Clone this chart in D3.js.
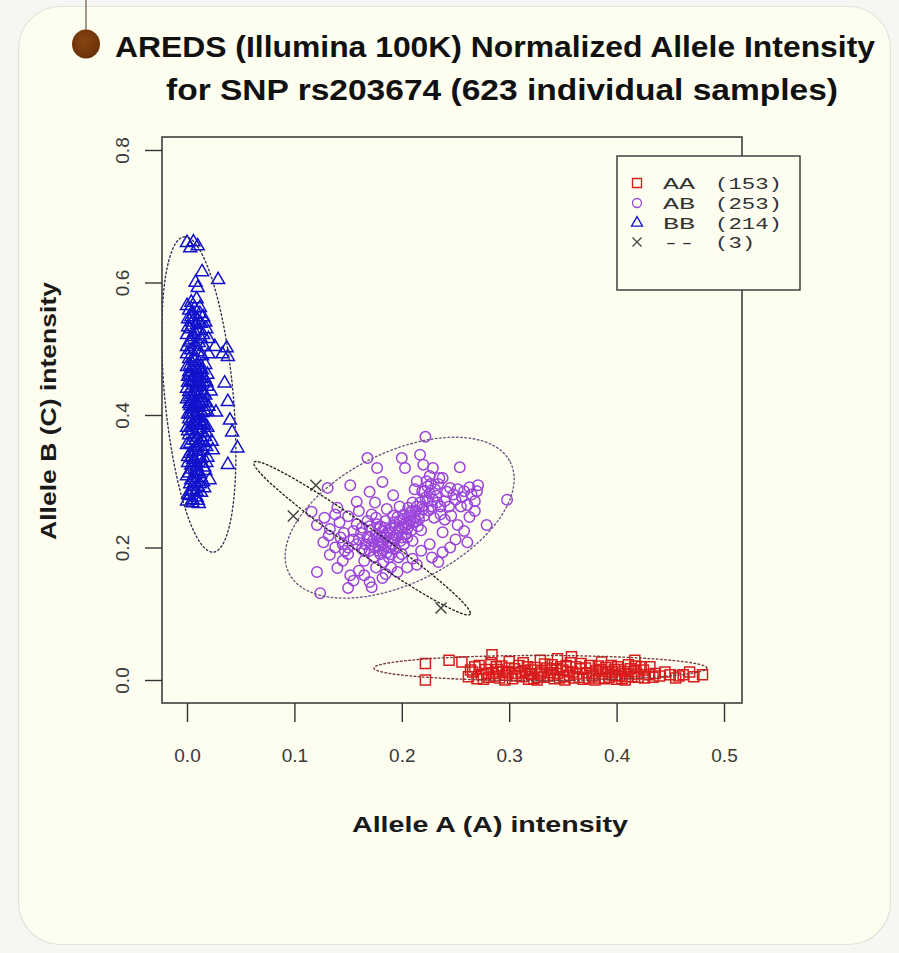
<!DOCTYPE html>
<html>
<head>
<meta charset="utf-8">
<script src="https://cdn.jsdelivr.net/npm/d3@7"></script>
<style>
  html, body { margin: 0; padding: 0; background: #f6f6f2; }
  svg { display: block; }
</style>
</head>
<body>
<svg id="chart" width="899" height="953"></svg>
<script>
// ---- Data -------------------------------------------------------------
const titleLines = [
  "AREDS (Illumina 100K) Normalized Allele Intensity",
  "for SNP rs203674 (623 individual samples)"
];
const xLabel = "Allele A (A) intensity";
const yLabel = "Allele B (C) intensity";
const xTicks = [0.0, 0.1, 0.2, 0.3, 0.4, 0.5];
const yTicks = [0.0, 0.2, 0.4, 0.6, 0.8];

const genotypes = ["AA", "AB", "BB", "--"];
const genotypeCounts = [153, 253, 214, 3];

// Normalized intensities [A, B] per genotype call
const pointsAA = [
  [0.222,0.025],[0.222,0.000],[0.244,0.030],[0.256,0.027],[0.284,0.038],[0.329,0.030],[0.358,0.035],
  [0.386,0.027],[0.417,0.030],[0.431,0.020],[0.468,0.012],[0.480,0.008],[0.272,0.022],[0.300,0.028],
  [0.345,0.032],[0.425,0.015],[0.440,0.006],[0.450,0.008],[0.458,0.006],[0.445,0.012],[0.472,0.005],
  [0.262,0.005],[0.266,0.012],[0.270,0.002],[0.274,0.008],[0.278,0.016],[0.281,0.004],[0.285,0.010],
  [0.288,0.020],[0.291,0.003],[0.294,0.013],[0.297,0.007],[0.300,0.018],[0.303,0.002],[0.306,0.010],
  [0.309,0.022],[0.312,0.005],[0.315,0.014],[0.318,0.001],[0.321,0.008],[0.324,0.019],[0.327,0.004],
  [0.330,0.012],[0.333,0.024],[0.336,0.006],[0.339,0.015],[0.342,0.002],[0.345,0.010],[0.348,0.020],
  [0.351,0.005],[0.354,0.013],[0.357,0.026],[0.360,0.003],[0.363,0.009],[0.366,0.017],[0.369,0.001],
  [0.372,0.011],[0.375,0.022],[0.378,0.006],[0.381,0.014],[0.384,0.003],[0.387,0.009],[0.390,0.019],
  [0.393,0.004],[0.396,0.012],[0.399,0.007],[0.402,0.016],[0.405,0.002],[0.408,0.010],[0.411,0.023],
  [0.414,0.005],[0.417,0.013],[0.420,0.004],[0.423,0.020],[0.268,0.020],[0.283,0.026],[0.296,0.000],
  [0.313,0.026],[0.326,0.000],[0.340,0.023],[0.352,0.000],[0.367,0.025],[0.380,0.000],[0.395,0.022],
  [0.408,0.000],[0.418,0.021],[0.290,0.012],[0.320,0.015],[0.350,0.015],[0.385,0.016],[0.400,0.001],
  [0.430,0.008],[0.436,0.010],
  [0.264,0.015],[0.276,0.001],[0.287,0.006],[0.293,0.021],[0.299,0.011],[0.305,0.017],[0.311,0.012],
  [0.317,0.020],[0.323,0.002],[0.329,0.009],[0.335,0.018],[0.341,0.007],[0.347,0.003],[0.353,0.022],
  [0.359,0.012],[0.365,0.004],[0.371,0.018],[0.377,0.010],[0.383,0.021],[0.389,0.002],[0.395,0.008],
  [0.401,0.020],[0.407,0.013],[0.413,0.017],[0.419,0.009],[0.410,0.005],[0.398,0.016],[0.374,0.003],
  [0.362,0.020],[0.338,0.011],[0.332,0.004],[0.319,0.010],[0.307,0.006],[0.289,0.016],[0.279,0.010],
  [0.356,0.007],[0.344,0.016],[0.391,0.013],[0.403,0.006],[0.426,0.003],[0.434,0.004],[0.462,0.008],
  [0.455,0.003]
];

const pointsAB = [
  [0.222,0.367],[0.168,0.335],[0.254,0.321],[0.298,0.272],[0.279,0.234],[0.261,0.208],[0.234,0.178],
  [0.124,0.131],[0.150,0.139],[0.121,0.163],[0.116,0.254],[0.131,0.290],[0.152,0.294],[0.177,0.320],
  [0.200,0.335],[0.203,0.320],[0.217,0.340],[0.220,0.325],[0.229,0.320],[0.238,0.305],[0.242,0.284],
  [0.263,0.291],[0.271,0.294],[0.261,0.264],[0.263,0.246],[0.252,0.234],[0.238,0.223],[0.238,0.193],
  [0.214,0.174],[0.196,0.163],[0.182,0.154],[0.170,0.148],[0.152,0.158],[0.140,0.169],[0.133,0.189],
  [0.127,0.208],[0.121,0.234],[0.140,0.260],[0.158,0.269],[0.170,0.284],[0.182,0.299],[0.192,0.279],
  [0.128,0.245],[0.133,0.228],[0.138,0.250],[0.142,0.238],[0.146,0.222],[0.150,0.247],[0.145,0.205],
  [0.150,0.190],[0.155,0.212],[0.158,0.235],[0.160,0.255],[0.163,0.198],[0.165,0.180],[0.168,0.215],
  [0.170,0.232],[0.172,0.250],[0.175,0.268],[0.176,0.170],[0.178,0.195],[0.180,0.208],[0.182,0.225],
  [0.185,0.240],[0.186,0.258],[0.188,0.185],[0.190,0.200],[0.192,0.215],[0.194,0.230],[0.196,0.246],
  [0.198,0.262],[0.200,0.190],[0.202,0.205],[0.204,0.220],[0.206,0.236],[0.208,0.252],[0.210,0.268],
  [0.212,0.288],[0.214,0.300],[0.216,0.243],[0.218,0.226],[0.220,0.258],[0.222,0.275],[0.224,0.292],
  [0.226,0.308],[0.228,0.262],[0.230,0.245],[0.232,0.278],[0.234,0.296],[0.236,0.262],[0.240,0.270],
  [0.244,0.262],[0.248,0.280],[0.252,0.288],[0.256,0.276],[0.246,0.248],[0.250,0.212],[0.226,0.205],
  [0.218,0.195],[0.210,0.183],[0.228,0.185],[0.160,0.165],[0.145,0.180],[0.138,0.200],[0.132,0.218],
  [0.155,0.150],[0.165,0.158],[0.172,0.140],[0.190,0.170],[0.185,0.160],[0.205,0.170],[0.245,0.200],
  [0.258,0.225],[0.268,0.255],[0.240,0.242],
  [0.166,0.205],[0.170,0.195],[0.173,0.210],[0.176,0.220],[0.178,0.202],[0.181,0.215],[0.183,0.197],
  [0.184,0.230],[0.187,0.210],[0.189,0.222],[0.191,0.205],[0.193,0.238],[0.195,0.218],[0.197,0.228],
  [0.199,0.210],[0.201,0.243],[0.203,0.232],[0.205,0.215],[0.207,0.248],[0.209,0.226],[0.211,0.238],
  [0.213,0.255],[0.215,0.232],[0.174,0.186],[0.179,0.228],[0.186,0.192],[0.192,0.248],[0.162,0.222],
  [0.158,0.205],[0.168,0.240],[0.200,0.230],[0.194,0.198],[0.206,0.260],[0.217,0.268],[0.221,0.248],
  [0.197,0.185],[0.183,0.178],[0.176,0.245],[0.171,0.226],[0.219,0.285],[0.223,0.300],[0.227,0.296],
  [0.231,0.288],
  [0.175,0.200],[0.180,0.190],[0.185,0.215],[0.188,0.200],[0.190,0.230],[0.193,0.212],[0.196,0.222],
  [0.198,0.240],[0.200,0.215],[0.202,0.250],[0.205,0.228],[0.208,0.240],[0.210,0.210],[0.212,0.245],
  [0.214,0.262],[0.216,0.250],[0.180,0.232],[0.178,0.210],[0.182,0.205],[0.186,0.222],[0.190,0.190],
  [0.170,0.215],[0.165,0.195],[0.172,0.205],[0.177,0.235],[0.204,0.238],[0.209,0.255],[0.213,0.240],
  [0.219,0.262],[0.224,0.270],[0.226,0.282],[0.229,0.272],[0.221,0.285],[0.225,0.256],[0.233,0.268],
  [0.236,0.250],[0.160,0.212],[0.163,0.230],[0.155,0.225],[0.150,0.200],[0.147,0.195],[0.143,0.215],
  [0.235,0.305],[0.245,0.290],[0.250,0.272],[0.255,0.262],[0.258,0.285],[0.265,0.280],[0.270,0.285],
  [0.268,0.270]
];

const pointsBB = [
  [0.000,0.660],[0.006,0.661],[0.010,0.655],[0.003,0.652],[0.014,0.616],[0.029,0.604],[0.010,0.592],
  [0.008,0.600],[0.000,0.565],[0.004,0.570],[0.002,0.558],[0.007,0.561],[0.012,0.553],[0.015,0.548],
  [0.001,0.545],[0.005,0.540],[0.009,0.536],[0.003,0.530],[0.011,0.527],[0.018,0.530],[0.000,0.521],
  [0.006,0.518],[0.013,0.515],[0.002,0.510],[0.008,0.506],[0.016,0.503],[0.026,0.503],[0.037,0.501],
  [0.004,0.498],[0.010,0.495],[0.000,0.492],[0.014,0.489],[0.020,0.492],[0.033,0.492],[0.038,0.488],
  [0.002,0.485],[0.007,0.482],[0.011,0.479],[0.017,0.476],[0.000,0.473],[0.005,0.470],[0.009,0.467],
  [0.013,0.464],[0.003,0.460],[0.019,0.461],[0.007,0.456],[0.011,0.452],[0.001,0.449],[0.015,0.448],
  [0.006,0.445],[0.035,0.448],[0.009,0.441],[0.013,0.437],[0.002,0.435],[0.022,0.436],[0.005,0.431],
  [0.017,0.430],[0.010,0.426],[0.000,0.424],[0.014,0.421],[0.038,0.420],[0.007,0.418],[0.003,0.414],
  [0.011,0.411],[0.020,0.413],[0.016,0.407],[0.006,0.404],[0.001,0.401],[0.012,0.399],[0.027,0.404],
  [0.040,0.392],[0.008,0.395],[0.004,0.391],[0.015,0.388],[0.010,0.384],[0.000,0.381],[0.019,0.381],
  [0.006,0.377],[0.042,0.374],[0.013,0.374],[0.002,0.370],[0.009,0.366],[0.017,0.367],[0.005,0.362],
  [0.023,0.360],[0.012,0.358],[0.000,0.355],[0.047,0.350],[0.008,0.351],[0.024,0.347],[0.015,0.346],
  [0.003,0.342],[0.011,0.339],[0.019,0.336],[0.006,0.333],[0.001,0.328],[0.014,0.327],[0.038,0.325],
  [0.009,0.322],[0.004,0.318],[0.017,0.316],[0.012,0.311],[0.000,0.308],[0.007,0.305],[0.021,0.302],
  [0.015,0.299],[0.003,0.296],[0.010,0.292],[0.006,0.287],[0.013,0.283],[0.001,0.280],[0.009,0.276],
  [0.005,0.272],[0.000,0.270],[0.005,0.267],[0.010,0.271],
  [0.004,0.548],[0.010,0.543],[0.001,0.533],[0.013,0.538],[0.007,0.525],[0.015,0.521],[0.004,0.513],
  [0.011,0.509],[0.000,0.503],[0.006,0.487],[0.012,0.470],[0.002,0.465],[0.016,0.456],[0.004,0.452],
  [0.009,0.447],[0.012,0.444],[0.000,0.440],[0.007,0.436],[0.019,0.443],[0.003,0.427],[0.013,0.426],
  [0.008,0.422],[0.002,0.417],[0.017,0.418],[0.010,0.415],[0.005,0.409],[0.014,0.403],[0.009,0.398],
  [0.002,0.394],[0.012,0.391],[0.006,0.386],[0.016,0.384],[0.001,0.376],[0.011,0.378],[0.007,0.371],
  [0.014,0.362],[0.003,0.357],[0.010,0.354],[0.006,0.345],[0.018,0.352],[0.001,0.337],[0.013,0.334],
  [0.008,0.330],[0.004,0.324],[0.016,0.321],[0.010,0.314],[0.002,0.312],[0.012,0.296],[0.007,0.298],
  [0.004,0.285],
  [0.003,0.475],[0.008,0.472],[0.014,0.468],[0.001,0.458],[0.010,0.459],[0.005,0.450],[0.013,0.455],
  [0.018,0.450],[0.008,0.433],[0.015,0.433],[0.004,0.420],[0.012,0.417],[0.006,0.412],[0.019,0.405],
  [0.003,0.402],[0.009,0.389],[0.013,0.385],[0.004,0.381],[0.018,0.373],[0.008,0.362],[0.016,0.358],
  [0.011,0.345],[0.004,0.335],[0.018,0.328],[0.008,0.316],[0.013,0.305],[0.009,0.284],[0.016,0.290],
  [0.004,0.302],[0.011,0.266],[0.002,0.278],[0.006,0.552],[0.012,0.562],[0.009,0.575],[0.017,0.540],
  [0.020,0.515]
];

const pointsMissing = [[0.099,0.2475],[0.120,0.294],[0.2365,0.1087]];

// Cluster ellipses: centre and two conjugate semi-axes, in intensity units
const ellipseGroups  = ["AA", "AB", "BB", "--"];
const ellipseCenters = [[0.329,0.018],[0.198,0.245],[0.011,0.431],[0.163,0.214]];
const ellipseAxisU   = [[0.155,0.000],[0.103,0.084],[-0.013,0.238],[0.1006,-0.1147]];
const ellipseAxisV   = [[0.000,0.019],[0.0276,-0.0877],[0.032,0.000],[-0.0070,-0.0160]];

// ---- Layout & style ---------------------------------------------------
const W = 899, H = 953;
const plot = { left: 162, top: 137, right: 742, bottom: 703 };
const styles = {
  "AA": { color: "#d81c1c", ellipse: "#7a3a3a", shape: "square" },
  "AB": { color: "#9a44dc", ellipse: "#6e5a86", shape: "circle" },
  "BB": { color: "#1212cc", ellipse: "#34345a", shape: "triangle" },
  "--": { color: "#444444", ellipse: "#222222", shape: "cross" }
};

const svg = d3.select("#chart");

// page panel
svg.append("rect").attr("x", 0).attr("y", 0).attr("width", W).attr("height", H).attr("fill", "#f6f6f2");
svg.append("rect").attr("x", 18.5).attr("y", 6.5).attr("width", 872).attr("height", 938)
  .attr("rx", 42).attr("ry", 42).attr("fill", "#fdfdf0").attr("stroke", "#e2e2da").attr("stroke-width", 1.2);

// hanging marker
svg.append("line").attr("x1", 86).attr("x2", 86).attr("y1", 0).attr("y2", 32)
  .attr("stroke", "#6f5446").attr("stroke-width", 1.2);
const grad = svg.append("defs").append("radialGradient").attr("id", "dotGrad")
  .attr("cx", "45%").attr("cy", "40%").attr("r", "60%");
grad.append("stop").attr("offset", "0%").attr("stop-color", "#8a4612");
grad.append("stop").attr("offset", "100%").attr("stop-color", "#6a3008");
svg.append("ellipse").attr("cx", 86).attr("cy", 44).attr("rx", 14).attr("ry", 14.5).attr("fill", "url(#dotGrad)");

// title
const titleFont = "'Liberation Sans', Arial, Helvetica, sans-serif";
const titleSpecs = [{ cx: 495, y: 57, len: 760 }, { cx: 502, y: 100, len: 672 }];
titleLines.forEach((t, i) => {
  svg.append("text").attr("x", titleSpecs[i].cx).attr("y", titleSpecs[i].y)
    .attr("text-anchor", "middle").attr("font-family", titleFont).attr("font-weight", "bold")
    .attr("font-size", 29).attr("fill", "#111")
    .attr("textLength", titleSpecs[i].len).attr("lengthAdjust", "spacingAndGlyphs")
    .text(t);
});

// scales
const x = d3.scaleLinear().domain([0, 0.5]).range([187, 724]);
const y = d3.scaleLinear().domain([0, 0.8]).range([680, 150]);

// plot frame
svg.append("rect").attr("x", plot.left).attr("y", plot.top)
  .attr("width", plot.right - plot.left).attr("height", plot.bottom - plot.top)
  .attr("fill", "none").attr("stroke", "#333").attr("stroke-width", 1.5);

// axes (R style: ticks detached below / left of frame)
const xAxis = d3.axisBottom(x).tickValues(xTicks).tickFormat(d3.format(".1f")).tickSize(19).tickPadding(27);
const gx = svg.append("g").attr("transform", `translate(0,${plot.bottom})`).call(xAxis);
gx.select(".domain").remove();
gx.selectAll(".tick line").attr("stroke", "#333").attr("stroke-width", 1.4);
gx.selectAll(".tick text").attr("font-family", titleFont).attr("font-size", 19).attr("fill", "#3a3a3a");

const yAxis = d3.axisLeft(y).tickValues(yTicks).tickFormat(d3.format(".1f")).tickSize(17).tickPadding(0);
const gy = svg.append("g").attr("transform", `translate(${plot.left},0)`).call(yAxis);
gy.select(".domain").remove();
gy.selectAll(".tick line").attr("stroke", "#333").attr("stroke-width", 1.4);
gy.selectAll(".tick text")
  .attr("font-family", titleFont).attr("font-size", 19).attr("fill", "#3a3a3a")
  .attr("x", null).attr("dy", null)
  .attr("text-anchor", "middle")
  .attr("transform", "translate(-40,0) rotate(-90)")
  .attr("dy", "0.35em");

// axis titles
svg.append("text").attr("x", 490).attr("y", 832).attr("text-anchor", "middle")
  .attr("font-family", titleFont).attr("font-weight", "bold").attr("font-size", 22).attr("fill", "#1a1a1a")
  .attr("textLength", 276).attr("lengthAdjust", "spacingAndGlyphs").text(xLabel);
svg.append("text").attr("transform", "translate(56,411) rotate(-90)").attr("text-anchor", "middle")
  .attr("font-family", titleFont).attr("font-weight", "bold").attr("font-size", 22).attr("fill", "#1a1a1a")
  .attr("textLength", 258).attr("lengthAdjust", "spacingAndGlyphs").text(yLabel);

// symbol paths
function symbolPath(shape, s) {
  if (shape === "square") return d3.symbol(d3.symbolSquare, s * s)();
  if (shape === "circle") return d3.symbol(d3.symbolCircle, Math.PI * (s / 2) * (s / 2))();
  if (shape === "triangle") return d3.symbol(d3.symbolTriangle, Math.sqrt(3) / 4 * s * s)();
  const h = s / 2;
  return `M${-h},${-h}L${h},${h}M${-h},${h}L${h},${-h}`;
}
const markerSize = { square: 10, circle: 10.5, triangle: 13, cross: 11 };

const clip = svg.append("defs").append("clipPath").attr("id", "plotClip");
clip.append("rect").attr("x", plot.left).attr("y", plot.top)
  .attr("width", plot.right - plot.left).attr("height", plot.bottom - plot.top);
const gPlot = svg.append("g").attr("clip-path", "url(#plotClip)");

const groups = [
  { key: "BB", pts: pointsBB },
  { key: "AB", pts: pointsAB },
  { key: "AA", pts: pointsAA },
  { key: "--", pts: pointsMissing }
];
groups.forEach(g => {
  const st = styles[g.key];
  gPlot.append("g").selectAll("path").data(g.pts).join("path")
    .attr("transform", d => `translate(${x(d[0])},${y(d[1])})`)
    .attr("d", symbolPath(st.shape, markerSize[st.shape]))
    .attr("fill", "none").attr("stroke", st.color).attr("stroke-width", 1.5);
});

// dotted cluster ellipses
const angles = d3.range(0, 361, 2).map(a => a * Math.PI / 180);
const ellLine = d3.line().x(d => x(d[0])).y(d => y(d[1]));
ellipseGroups.forEach((k, i) => {
  const c = ellipseCenters[i], u = ellipseAxisU[i], v = ellipseAxisV[i];
  const pts = angles.map(t => [
    c[0] + Math.cos(t) * u[0] + Math.sin(t) * v[0],
    c[1] + Math.cos(t) * u[1] + Math.sin(t) * v[1]
  ]);
  gPlot.append("path").attr("d", ellLine(pts)).attr("fill", "none")
    .attr("stroke", styles[k].ellipse).attr("stroke-width", 1.4)
    .attr("stroke-dasharray", "1.6,2.6").attr("stroke-linecap", "round");
});

// legend
const lg = svg.append("g");
lg.append("rect").attr("x", 617).attr("y", 156).attr("width", 183).attr("height", 134)
  .attr("fill", "#fdfdf0").attr("stroke", "#333").attr("stroke-width", 1.4);
const legendRows = [183, 203, 223, 242];
const monoFont = "'Liberation Mono', 'DejaVu Sans Mono', monospace";
genotypes.forEach((gname, i) => {
  const st = styles[gname];
  lg.append("path").attr("transform", `translate(637,${legendRows[i]})`)
    .attr("d", symbolPath(st.shape, st.shape === "triangle" ? 11 : 9))
    .attr("fill", "none").attr("stroke", st.color).attr("stroke-width", 1.3);
  lg.append("text").attr("x", 663).attr("y", legendRows[i]).attr("dy", "0.36em")
    .attr("font-family", monoFont).attr("font-size", 16.5).attr("fill", "#333")
    .attr("textLength", 32).attr("lengthAdjust", "spacingAndGlyphs")
    .text(gname);
  const countText = `(${genotypeCounts[i]})`;
  lg.append("text").attr("x", 715).attr("y", legendRows[i]).attr("dy", "0.36em")
    .attr("font-family", monoFont).attr("font-size", 16.5).attr("fill", "#333")
    .attr("textLength", countText.length * 13.4).attr("lengthAdjust", "spacingAndGlyphs")
    .text(countText);
});
</script>
</body>
</html>
